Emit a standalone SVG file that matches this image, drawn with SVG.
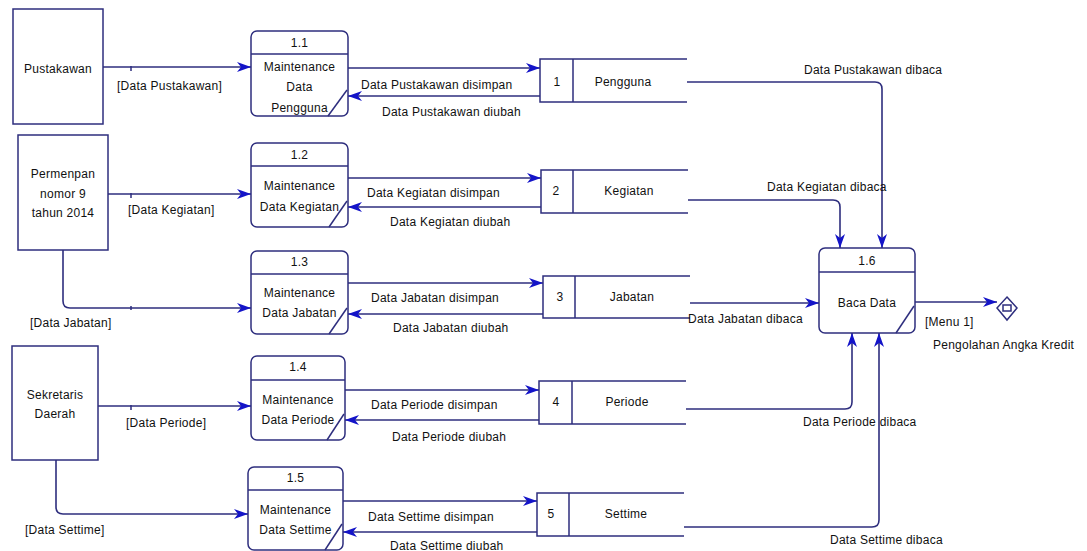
<svg xmlns="http://www.w3.org/2000/svg" width="1087" height="551" viewBox="0 0 1087 551">
  <defs>
    <marker id="arrow" markerUnits="userSpaceOnUse" markerWidth="16" markerHeight="12" refX="14" refY="5" orient="auto">
      <path d="M0,0 L14,5 L0,10 L4,5 Z" fill="#1414c8"/>
    </marker>
    <style>
      .box { fill: #ffffff; stroke: #2e2e7e; stroke-width: 1.5; }
      .ln { fill: none; stroke: #2e2e7e; stroke-width: 1.5; }
      .flow { fill: none; stroke: #2e2e7e; stroke-width: 1.6; marker-end: url(#arrow); }
      text { font-family: "Liberation Sans", Arial, sans-serif; font-size: 12px; letter-spacing: 0.25px; fill: #111111; }
      .c { text-anchor: middle; }
    </style>
  </defs>
  <rect width="1087" height="551" fill="#ffffff"/>

  <!-- external entities -->
  <g id="ext-pustakawan">
    <rect class="box" x="13" y="9" width="90" height="115"/>
    <text class="c" x="58" y="73">Pustakawan</text>
  </g>
  <g id="ext-permenpan">
    <rect class="box" x="18" y="135" width="90" height="115"/>
    <text class="c" x="63" y="178">Permenpan</text>
    <text class="c" x="63" y="198">nomor 9</text>
    <text class="c" x="63" y="217">tahun 2014</text>
  </g>
  <g id="ext-sekretaris">
    <rect class="box" x="12" y="346" width="86" height="114"/>
    <text class="c" x="55" y="399">Sekretaris</text>
    <text class="c" x="55" y="418">Daerah</text>
  </g>

  <!-- processes -->
  <g id="proc-1-1">
    <rect class="box" x="251" y="31" width="97" height="85" rx="6"/>
    <line class="ln" x1="251" y1="54" x2="348" y2="54"/>
    <line class="ln" x1="328" y1="116" x2="347" y2="90"/>
    <text class="c" x="299.5" y="47">1.1</text>
    <text class="c" x="299.5" y="71">Maintenance</text>
    <text class="c" x="299.5" y="91">Data</text>
    <text class="c" x="299.5" y="112">Pengguna</text>
  </g>
  <g id="proc-1-2">
    <rect class="box" x="251" y="143" width="97" height="84" rx="6"/>
    <line class="ln" x1="251" y1="166" x2="348" y2="166"/>
    <line class="ln" x1="329" y1="227" x2="347" y2="201"/>
    <text class="c" x="299.5" y="159">1.2</text>
    <text class="c" x="299.5" y="190">Maintenance</text>
    <text class="c" x="299.5" y="211">Data Kegiatan</text>
  </g>
  <g id="proc-1-3">
    <rect class="box" x="251" y="251" width="97" height="83" rx="6"/>
    <line class="ln" x1="251" y1="274" x2="348" y2="274"/>
    <line class="ln" x1="329" y1="334" x2="347" y2="308"/>
    <text class="c" x="299.5" y="266">1.3</text>
    <text class="c" x="299.5" y="297">Maintenance</text>
    <text class="c" x="299.5" y="317">Data Jabatan</text>
  </g>
  <g id="proc-1-4">
    <rect class="box" x="251" y="356" width="94" height="84" rx="6"/>
    <line class="ln" x1="251" y1="380" x2="345" y2="380"/>
    <line class="ln" x1="327" y1="440" x2="344" y2="414"/>
    <text class="c" x="298" y="371">1.4</text>
    <text class="c" x="298" y="404">Maintenance</text>
    <text class="c" x="298" y="424">Data Periode</text>
  </g>
  <g id="proc-1-5">
    <rect class="box" x="248" y="467" width="95" height="83" rx="6"/>
    <line class="ln" x1="248" y1="490" x2="343" y2="490"/>
    <line class="ln" x1="325" y1="550" x2="342" y2="524"/>
    <text class="c" x="295.5" y="482">1.5</text>
    <text class="c" x="295.5" y="514">Maintenance</text>
    <text class="c" x="295.5" y="534">Data Settime</text>
  </g>
  <g id="proc-1-6">
    <rect class="box" x="819" y="248" width="96" height="85" rx="6"/>
    <line class="ln" x1="819" y1="272" x2="915" y2="272"/>
    <line class="ln" x1="896" y1="333" x2="914" y2="306"/>
    <text class="c" x="867" y="265">1.6</text>
    <text class="c" x="867" y="307">Baca Data</text>
  </g>

  <!-- data stores -->
  <g id="store-1">
    <path class="ln" d="M687,59 H540 V102 H687 M573,59 V102"/>
    <text class="c" x="557" y="86">1</text>
    <text class="c" x="623" y="86">Pengguna</text>
  </g>
  <g id="store-2">
    <path class="ln" d="M688,170 H541 V213 H688 M573,170 V213"/>
    <text class="c" x="556" y="195">2</text>
    <text class="c" x="629" y="195">Kegiatan</text>
  </g>
  <g id="store-3">
    <path class="ln" d="M690,276 H543 V318 H690 M575,276 V318"/>
    <text class="c" x="560" y="301">3</text>
    <text class="c" x="632" y="301">Jabatan</text>
  </g>
  <g id="store-4">
    <path class="ln" d="M686,381 H539 V424 H686 M572,381 V424"/>
    <text class="c" x="556" y="406">4</text>
    <text class="c" x="627" y="406">Periode</text>
  </g>
  <g id="store-5">
    <path class="ln" d="M684,493 H537 V536 H684 M569,493 V536"/>
    <text class="c" x="551" y="518">5</text>
    <text class="c" x="626" y="518">Settime</text>
  </g>

  <!-- off-page connector -->
  <g id="offpage-pengolahan">
    <path class="box" d="M1007,297 L1017,308 L1007,320 L997,308 Z"/>
    <rect class="ln" x="1003" y="305" width="8" height="6"/>
    <text x="933" y="349">Pengolahan Angka Kredit</text>
  </g>

  <!-- connectors -->
  <g id="connectors">
    <!-- entity to process -->
    <line class="flow" x1="103" y1="67" x2="251" y2="67"/>
    <line class="ln" x1="131" y1="66" x2="131" y2="71"/>
    <line class="flow" x1="108" y1="194" x2="251" y2="194"/>
    <line class="ln" x1="131" y1="193" x2="131" y2="198"/>
    <path class="flow" d="M63,250 V301 Q63,308 70,308 H251"/>
    <line class="ln" x1="131" y1="306" x2="131" y2="310"/>
    <line class="flow" x1="98" y1="406" x2="251" y2="406"/>
    <line class="ln" x1="131" y1="405" x2="131" y2="410"/>
    <path class="flow" d="M56,460 V507 Q56,514 63,514 H248"/>

    <!-- process to store and back -->
    <line class="flow" x1="348" y1="68" x2="540" y2="68"/>
    <line class="flow" x1="540" y1="96" x2="348" y2="96"/>
    <line class="flow" x1="348" y1="178" x2="541" y2="178"/>
    <line class="flow" x1="541" y1="207" x2="348" y2="207"/>
    <line class="flow" x1="348" y1="283" x2="543" y2="283"/>
    <line class="flow" x1="543" y1="314" x2="348" y2="314"/>
    <line class="flow" x1="345" y1="390" x2="539" y2="390"/>
    <line class="flow" x1="539" y1="420" x2="345" y2="420"/>
    <line class="flow" x1="343" y1="501" x2="537" y2="501"/>
    <line class="flow" x1="537" y1="532" x2="343" y2="532"/>

    <!-- stores read by 1.6 -->
    <path class="flow" d="M687,82 H875 Q882,82 882,89 V248"/>
    <path class="flow" d="M688,200 H833 Q840,200 840,207 V248"/>
    <line class="flow" x1="690" y1="303" x2="819" y2="303"/>
    <path class="flow" d="M686,409 H845 Q852,409 852,402 V333"/>
    <path class="flow" d="M684,527 H872 Q879,527 879,520 V333"/>

    <!-- 1.6 output -->
    <line class="flow" x1="915" y1="302" x2="997" y2="302"/>

    <!-- labels -->
    <text x="117" y="90">[Data Pustakawan]</text>
    <text x="128" y="214">[Data Kegiatan]</text>
    <text x="30" y="327">[Data Jabatan]</text>
    <text x="126" y="427">[Data Periode]</text>
    <text x="25" y="534">[Data Settime]</text>

    <text x="361" y="89">Data Pustakawan disimpan</text>
    <text x="382" y="116">Data Pustakawan diubah</text>
    <text x="367" y="197">Data Kegiatan disimpan</text>
    <text x="390" y="226">Data Kegiatan diubah</text>
    <text x="371" y="302">Data Jabatan disimpan</text>
    <text x="393" y="332">Data Jabatan diubah</text>
    <text x="371" y="409">Data Periode disimpan</text>
    <text x="392" y="441">Data Periode diubah</text>
    <text x="368" y="521">Data Settime disimpan</text>
    <text x="390" y="550">Data Settime diubah</text>

    <text x="804" y="74">Data Pustakawan dibaca</text>
    <text x="767" y="191">Data Kegiatan dibaca</text>
    <text x="688" y="323">Data Jabatan dibaca</text>
    <text x="803" y="426">Data Periode dibaca</text>
    <text x="830" y="544">Data Settime dibaca</text>
    <text x="925" y="326">[Menu 1]</text>
  </g>
</svg>
